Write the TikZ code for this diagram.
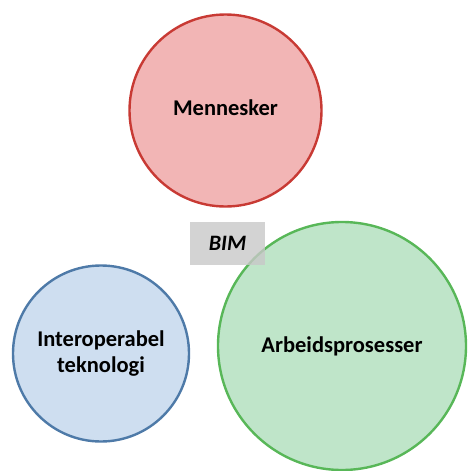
\documentclass[tikz,border=0pt]{standalone}
\usepackage{fontspec}
\setmainfont{Carlito}
\usetikzlibrary{shapes}

\definecolor{redfill}{RGB}{242,181,181}
\definecolor{redline}{RGB}{200,58,52}
\definecolor{bluefill}{RGB}{206,222,240}
\definecolor{blueline}{RGB}{78,122,168}
\definecolor{greenfill}{RGB}{191,229,201}
\definecolor{greenline}{RGB}{88,183,88}
\definecolor{bimgray}{RGB}{200,200,200}

\tikzset{
  area/.style={circle, line width=2.4pt, font=\bfseries\fontsize{22.5}{26}\selectfont, align=center, inner sep=0pt},
  tag/.style={fill=bimgray, fill opacity=0.8, text opacity=1, font=\bfseries\itshape\fontsize{22}{26}\selectfont, minimum width=75pt, minimum height=43pt, inner sep=0pt}
}

\begin{document}
\begin{tikzpicture}[x=1pt, y=-1pt]
% Place nodes
\useasboundingbox (0,0) rectangle (467,471);

\node[area, draw=redline, fill=redfill, minimum size=192pt] (mennesker) at (225.5,110.5) {\raisebox{6pt}{Mennesker}}; %top

\node[area, draw=blueline, fill=bluefill, minimum size=176pt] (teknologi) at (101,353.5) {Interoperabel\\teknologi}; %bottom left

\node[area, draw=greenline, fill=greenfill, minimum size=248pt] (prosesser) at (342,346) {\raisebox{-4pt}{Arbeidsprosesser}}; %bottom right

\node[tag] (bim) at (227.5,243.5) {BIM};

\end{tikzpicture}
\end{document}
